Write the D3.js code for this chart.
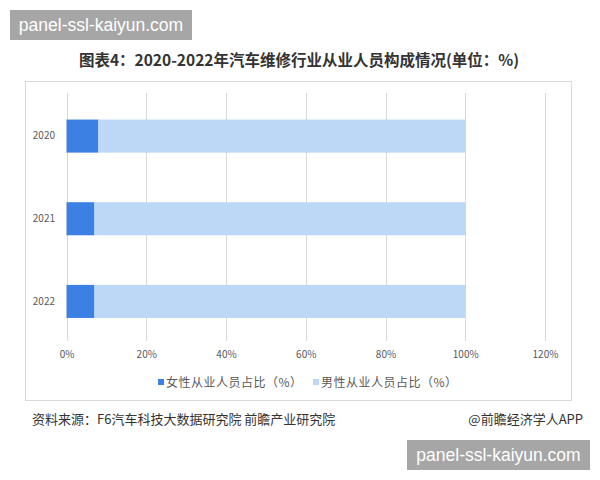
<!DOCTYPE html>
<html><head><meta charset="utf-8">
<script src="https://cdn.jsdelivr.net/npm/d3@7/dist/d3.min.js"></script>
<style>body{margin:0;background:#fff;}svg{display:block;}</style>
</head><body>
<svg id="c" width="600" height="480"></svg>
<script>
const categories = ["2020", "2021", "2022"];
const female = [8, 7, 7];
const male = [92, 93, 93];
const seriesNames = ["女性从业人员占比（%）", "男性从业人员占比（%）"];
const xTicks = [0, 20, 40, 60, 80, 100, 120];
const colors = ["#3b80e2", "#bdd7f7"];

const svg = d3.select("#c");
const font = "'Microsoft YaHei','Noto Sans CJK SC',sans-serif";

// frame
svg.append("rect").attr("x", 25.5).attr("y", 81.5).attr("width", 546).attr("height", 319)
  .attr("fill", "none").attr("stroke", "#d9d9d9").attr("stroke-width", 1);

// title
svg.append("text").attr("x", 299).attr("y", 66).attr("text-anchor", "middle")
  .attr("font-family", font).attr("font-size", 15.5).attr("font-weight", "bold").attr("fill", "#333")
  .text("图表4：2020-2022年汽车维修行业从业人员构成情况(单位：%)");

const x = d3.scaleLinear().domain([0, 120]).range([66.5, 545]);
const y = d3.scaleBand().domain(categories).range([94.75, 342.75]).paddingInner(0.6).paddingOuter(0.3);

// grid
svg.append("g").selectAll("line").data(xTicks).join("line")
  .attr("x1", d => Math.round(x(d)) + 0.5).attr("x2", d => Math.round(x(d)) + 0.5)
  .attr("y1", 93).attr("y2", 341)
  .attr("stroke", "#d9d9d9").attr("stroke-width", 1);

// bars
const stacked = categories.map((c, i) => ({c, parts: [[0, female[i]], [female[i], female[i] + male[i]]]}));
const g = svg.append("g");
stacked.forEach(s => {
  s.parts.forEach((p, j) => {
    g.append("rect").attr("x", x(p[0])).attr("width", x(p[1]) - x(p[0]))
      .attr("y", y(s.c)).attr("height", y.bandwidth()).attr("fill", colors[j]);
  });
});

// x axis labels
const xa = svg.append("g").attr("transform", "translate(0,341)")
  .call(d3.axisBottom(x).tickValues(xTicks).tickFormat(d => d + "%").tickSize(0).tickPadding(10));
xa.select(".domain").remove();
xa.selectAll("text").attr("font-family", font).attr("font-size", 10).attr("fill", "#595959");

// y axis labels
const ya = svg.append("g").attr("transform", "translate(66,0)")
  .call(d3.axisLeft(y).tickSize(0).tickPadding(11));
ya.select(".domain").remove();
ya.selectAll("text").attr("font-family", font).attr("font-size", 10).attr("fill", "#595959");

// legend
const legX = [158, 313];
seriesNames.forEach((n, i) => {
  svg.append("rect").attr("x", legX[i]).attr("y", 379).attr("width", 6).attr("height", 6).attr("fill", colors[i]);
  svg.append("text").attr("x", legX[i] + 8).attr("y", 386.5).attr("font-family", font).attr("font-size", 12)
    .attr("letter-spacing", 0.5).attr("fill", "#595959").text(n);
});

// source
svg.append("text").attr("x", 32).attr("y", 424).attr("font-family", font).attr("font-size", 13)
  .attr("fill", "#333").text("资料来源：F6汽车科技大数据研究院 前瞻产业研究院");
svg.append("text").attr("x", 583).attr("y", 424).attr("text-anchor", "end").attr("font-family", font).attr("font-size", 13)
  .attr("fill", "#333").text("@前瞻经济学人APP");

// watermark boxes
function wm(x0, y0, w, h) {
  svg.append("rect").attr("x", x0).attr("y", y0).attr("width", w).attr("height", h).attr("fill", "#a6a6a6");
  svg.append("text").attr("x", x0 + w / 2).attr("y", y0 + h / 2 + 6).attr("text-anchor", "middle")
    .attr("font-family", "'Liberation Sans',Arial,sans-serif").attr("font-size", 17.5).attr("fill", "#fff")
    .text("panel-ssl-kaiyun.com");
}
wm(10, 10, 182, 30);
wm(407, 440, 183, 30);
</script>
</body></html>
